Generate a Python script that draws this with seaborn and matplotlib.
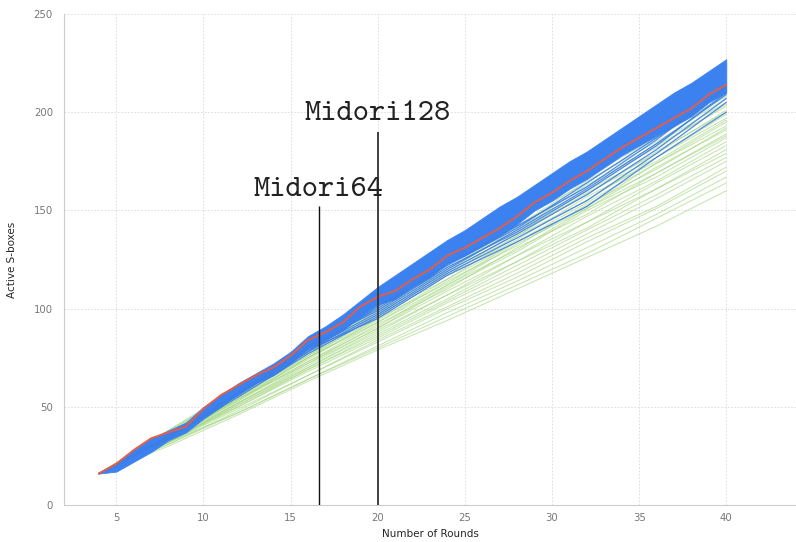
import pandas as pd
import matplotlib
matplotlib.use("Agg")
import matplotlib.pyplot as plt
import seaborn as sns

# rounds 4..40
rounds = list(range(4, 41))
red_line = [16, 21, 28, 34, 37, 40, 49, 56, 61, 66, 70, 76, 84, 88, 93, 101, 106, 109, 115, 120,
            127, 131, 136, 141, 147, 154, 159, 165, 170, 176, 182, 187, 192, 197, 202, 209, 214]
blue_high = [16, 21, 28, 34, 38, 42, 50, 56, 62, 67, 72, 78, 86, 91, 97, 104, 111, 117, 123, 129,
             135, 140, 146, 152, 157, 163, 169, 175, 180, 186, 192, 198, 204, 210, 215, 221, 227]
blue_low = [16, 17, 22, 27, 33, 37, 44, 50, 57, 62, 66, 72, 80, 84, 89, 96, 102, 105, 111, 116,
            123, 127, 132, 137, 143, 150, 155, 161, 166, 172, 178, 183, 188, 193, 198, 205, 210]

# sampled rounds for the single lines
sample_rounds = [4, 8, 12, 16, 20, 24, 28, 32, 36, 40]
blue_lines = [
    [16, 35, 57, 80, 100, 122, 141, 164, 187, 212],
    [16, 34, 56, 79, 98, 120, 140, 161, 184, 209],
    [16, 35, 57, 78, 97, 119, 138, 158, 181, 207],
    [16, 34, 55, 77, 96, 118, 136, 155, 179, 205],
    [16, 35, 56, 79, 95, 117, 134, 152, 177, 200],
    [16, 34, 57, 81, 99, 121, 139, 160, 183, 210],
    [16, 35, 56, 78, 101, 123, 142, 162, 186, 213],
]
green_lines = [
    [16, 38, 60, 82, 103, 126, 147, 170, 191, 213],
    [16, 37, 60, 80, 103, 124, 147, 167, 190, 211],
    [16, 38, 58, 81, 101, 124, 144, 167, 187, 209],
    [16, 36, 59, 79, 102, 122, 145, 164, 187, 208],
    [16, 37, 57, 80, 100, 123, 142, 165, 185, 207],
    [16, 36, 58, 78, 100, 120, 142, 162, 184, 205],
    [16, 37, 57, 79, 99, 121, 140, 163, 182, 204],
    [16, 35, 58, 77, 99, 119, 141, 160, 183, 203],
    [16, 36, 56, 78, 97, 119, 138, 160, 179, 201],
    [16, 35, 57, 76, 98, 117, 139, 158, 180, 200],
    [16, 36, 55, 77, 96, 118, 137, 159, 177, 199],
    [16, 35, 56, 75, 97, 115, 137, 155, 177, 197],
    [16, 34, 55, 76, 95, 117, 135, 157, 175, 196],
    [16, 35, 54, 75, 94, 115, 134, 154, 174, 195],
    [16, 34, 55, 74, 95, 113, 134, 152, 174, 193],
    [16, 35, 53, 75, 93, 114, 132, 153, 171, 192],
    [16, 33, 54, 73, 93, 112, 133, 151, 172, 191],
    [16, 34, 53, 73, 91, 112, 130, 151, 169, 189],
    [16, 33, 54, 72, 92, 110, 131, 148, 169, 188],
    [16, 34, 52, 72, 90, 111, 129, 150, 167, 187],
    [16, 33, 52, 71, 90, 109, 127, 147, 165, 185],
    [16, 32, 52, 70, 89, 107, 127, 144, 164, 183],
    [16, 33, 51, 70, 88, 107, 124, 144, 161, 181],
    [16, 32, 51, 69, 87, 105, 124, 141, 161, 179],
    [16, 33, 50, 69, 86, 104, 122, 140, 158, 177],
    [16, 32, 50, 68, 85, 103, 120, 138, 156, 175],
    [16, 32, 49, 66, 84, 101, 118, 136, 152, 172],
    [16, 31, 48, 66, 83, 100, 116, 134, 151, 170],
    [16, 32, 47, 64, 81, 98, 114, 131, 148, 167],
    [16, 31, 47, 64, 80, 96, 112, 128, 146, 164],
    [16, 30, 46, 63, 79, 94, 110, 126, 142, 160],
]

marker_names = ["Midori64", "Midori128"]
marker_rounds = [16.63, 20]
marker_tops = [152, 190]
label_y = [157.5, 196]


def to_long(lines):
    rows = []
    for i, vals in enumerate(lines):
        for r, v in zip(sample_rounds, vals):
            rows.append({"round": r, "value": v, "line": i})
    return pd.DataFrame(rows)


sns.set_theme(style="white")
plt.rcParams["font.family"] = ["DejaVu Sans"]

fig = plt.figure(figsize=(7.96, 5.42), dpi=100)
ax = fig.add_axes([64 / 796, 37 / 542, 1 - 64 / 796, 491 / 542])

sns.lineplot(data=to_long(green_lines), x="round", y="value", units="line",
             estimator=None, color="#9fd47a", linewidth=0.75, alpha=0.6, ax=ax)
ax.fill_between(rounds, blue_low, blue_high, color="#3b82f0", linewidth=0.6, zorder=3)
sns.lineplot(data=to_long(blue_lines), x="round", y="value", units="line",
             estimator=None, color="#3b7ee8", linewidth=0.9, alpha=0.9, ax=ax, zorder=4)
sns.lineplot(x=rounds, y=red_line, color="#ef5a3c", linewidth=1.3, ax=ax, zorder=5)

ax.vlines(marker_rounds, 0, marker_tops, colors=["#111111", "#333333"],
          linewidth=[1.0, 1.3], zorder=6)
for name, r, y in zip(marker_names, marker_rounds, label_y):
    ax.text(r, y, name, ha="center", va="baseline", fontsize=22.3,
            family="cmtt10", color="#222222", zorder=7)

ax.set_xlim(2, 44)
ax.set_ylim(0, 250)
ax.set_xticks(range(5, 41, 5))
ax.set_yticks(range(0, 251, 50))
ax.grid(True, color="#d9d9d9", linestyle=(0, (2, 2)), linewidth=0.6)
for s in ["top", "right"]:
    ax.spines[s].set_visible(False)
for s in ["left", "bottom"]:
    ax.spines[s].set_color("#cccccc")
    ax.spines[s].set_linewidth(0.8)
ax.tick_params(axis="x", length=0, pad=6, labelsize=7.3, labelcolor="#777777")
ax.tick_params(axis="y", length=3, width=0.8, color="#cccccc", pad=5,
               labelsize=7.3, labelcolor="#777777")
ax.set_xlabel("Number of Rounds", fontsize=7.5, labelpad=4)
ax.set_ylabel("Active S-boxes", fontsize=7.5, labelpad=12)

fig.savefig("out.png", dpi=100)
